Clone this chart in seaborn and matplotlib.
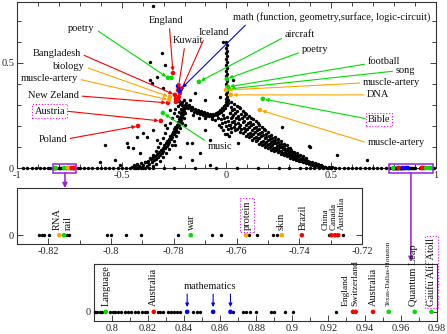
import pandas as pd
import seaborn as sns
import matplotlib.pyplot as plt
import matplotlib.transforms as mtransforms
from matplotlib.patches import Rectangle
from matplotlib.ticker import MultipleLocator

# ---------------- data ----------------
# black cloud, main panel: left arm, bridge, column at x=0, mass under it, right tail, outliers
arm = [(-0.452, 0.004), (-0.441, 0.012), (-0.433, 0.003), (-0.425, 0.018), (-0.418, 0.008), (-0.409, 0.022),
       (-0.402, 0.006), (-0.396, 0.015), (-0.388, 0.028), (-0.381, 0.010), (-0.376, 0.034), (-0.369, 0.020),
       (-0.362, 0.041), (-0.357, 0.027), (-0.350, 0.050), (-0.346, 0.036), (-0.340, 0.058), (-0.336, 0.044),
       (-0.331, 0.067), (-0.327, 0.052), (-0.322, 0.078), (-0.318, 0.062), (-0.314, 0.088), (-0.309, 0.071),
       (-0.305, 0.097), (-0.301, 0.083), (-0.298, 0.108), (-0.293, 0.094), (-0.290, 0.118), (-0.286, 0.104),
       (-0.283, 0.129), (-0.279, 0.115), (-0.276, 0.140), (-0.272, 0.126), (-0.269, 0.151), (-0.265, 0.137),
       (-0.262, 0.162), (-0.258, 0.148), (-0.256, 0.173), (-0.252, 0.160), (-0.249, 0.185), (-0.246, 0.171),
       (-0.244, 0.196), (-0.240, 0.182), (-0.238, 0.207), (-0.234, 0.194), (-0.232, 0.219), (-0.228, 0.205),
       (-0.226, 0.231), (-0.222, 0.218), (-0.221, 0.243), (-0.216, 0.230), (-0.216, 0.256), (-0.211, 0.243),
       (-0.212, 0.268), (-0.206, 0.256), (-0.208, 0.281), (-0.203, 0.270), (-0.206, 0.294), (-0.200, 0.284),
       (-0.214, 0.300), (-0.198, 0.298), (-0.210, 0.312), (-0.220, 0.306), (-0.226, 0.318), (-0.204, 0.322),
       (-0.192, 0.310), (-0.232, 0.294), (-0.244, 0.280), (-0.250, 0.262), (-0.262, 0.238), (-0.270, 0.214),
       (-0.282, 0.190), (-0.292, 0.166), (-0.303, 0.142), (-0.315, 0.118), (-0.326, 0.098), (-0.338, 0.080),
       (-0.351, 0.062), (-0.366, 0.046), (-0.380, 0.030), (-0.236, 0.248), (-0.228, 0.265), (-0.218, 0.282),
       (-0.196, 0.262), (-0.204, 0.240), (-0.212, 0.214), (-0.220, 0.192), (-0.230, 0.170), (-0.240, 0.150),
       (-0.251, 0.128), (-0.262, 0.108), (-0.275, 0.090), (-0.288, 0.070), (-0.302, 0.052), (-0.318, 0.035),
       (-0.334, 0.020), (-0.350, 0.010)]

bridge = [(-0.190, 0.296), (-0.185, 0.284), (-0.180, 0.300), (-0.176, 0.288), (-0.171, 0.276), (-0.166, 0.292),
          (-0.162, 0.280), (-0.157, 0.268), (-0.152, 0.283), (-0.147, 0.272), (-0.142, 0.262), (-0.137, 0.276),
          (-0.132, 0.266), (-0.127, 0.256), (-0.122, 0.270), (-0.117, 0.260), (-0.112, 0.251), (-0.107, 0.266),
          (-0.102, 0.257), (-0.097, 0.248), (-0.092, 0.262), (-0.087, 0.254), (-0.082, 0.246), (-0.077, 0.259),
          (-0.072, 0.251), (-0.067, 0.243), (-0.062, 0.257), (-0.057, 0.250), (-0.052, 0.262), (-0.047, 0.254),
          (-0.042, 0.268), (-0.037, 0.260), (-0.032, 0.276), (-0.027, 0.268), (-0.022, 0.284), (-0.017, 0.276),
          (-0.013, 0.294), (-0.009, 0.286), (-0.006, 0.302), (-0.160, 0.250), (-0.130, 0.240), (-0.100, 0.236),
          (-0.070, 0.232), (-0.040, 0.240), (-0.018, 0.252)]

column = [(0.000, 0.600), (0.002, 0.585), (-0.001, 0.572), (0.001, 0.558), (0.000, 0.545), (0.002, 0.531),
          (-0.001, 0.517), (0.001, 0.503), (0.000, 0.490), (0.002, 0.476), (-0.001, 0.462), (0.001, 0.448),
          (0.000, 0.436), (0.003, 0.412), (-0.002, 0.400), (0.001, 0.388), (0.004, 0.362), (-0.003, 0.352),
          (0.002, 0.340), (-0.004, 0.330), (0.006, 0.322), (-0.002, 0.316), (0.008, 0.308), (0.003, 0.298)]

mass = [(-0.028, 0.232), (-0.020, 0.214), (-0.012, 0.236), (-0.006, 0.220), (0.004, 0.244), (0.010, 0.226),
        (-0.024, 0.196), (-0.014, 0.180), (-0.004, 0.200), (0.006, 0.186), (0.014, 0.206), (0.020, 0.190),
        (-0.008, 0.160), (0.004, 0.164), (0.014, 0.150), (0.024, 0.170), (0.016, 0.262), (0.026, 0.244),
        (-0.034, 0.206)]

tail = [(0.018, 0.205), (0.022, 0.236), (0.017, 0.262), (0.024, 0.289), (0.020, 0.316),
        (0.034, 0.197), (0.037, 0.223), (0.032, 0.254), (0.038, 0.279), (0.035, 0.306),
        (0.049, 0.186), (0.053, 0.214), (0.047, 0.238), (0.052, 0.270), (0.050, 0.294),
        (0.064, 0.173), (0.067, 0.204), (0.062, 0.231), (0.068, 0.255), (0.065, 0.284),
        (0.079, 0.167), (0.083, 0.190), (0.077, 0.221), (0.082, 0.247), (0.080, 0.270),
        (0.094, 0.153), (0.098, 0.184), (0.092, 0.207), (0.097, 0.236), (0.095, 0.259),
        (0.109, 0.146), (0.113, 0.168), (0.108, 0.197), (0.112, 0.220), (0.110, 0.249),
        (0.124, 0.134), (0.128, 0.161), (0.122, 0.183), (0.127, 0.211), (0.125, 0.233),
        (0.139, 0.127), (0.143, 0.148), (0.137, 0.173), (0.142, 0.196), (0.140, 0.223),
        (0.154, 0.116), (0.158, 0.141), (0.152, 0.161), (0.157, 0.186), (0.155, 0.207),
        (0.169, 0.111), (0.173, 0.129), (0.167, 0.153), (0.172, 0.172), (0.170, 0.196),
        (0.184, 0.101), (0.188, 0.124), (0.182, 0.141), (0.187, 0.163), (0.185, 0.181),
        (0.199, 0.097), (0.203, 0.113), (0.197, 0.134), (0.202, 0.151), (0.200, 0.171),
        (0.214, 0.087), (0.218, 0.108), (0.212, 0.123), (0.217, 0.143), (0.215, 0.157),
        (0.229, 0.083), (0.233, 0.097), (0.227, 0.117), (0.232, 0.131), (0.230, 0.149),
        (0.244, 0.074), (0.248, 0.092), (0.242, 0.106), (0.247, 0.123), (0.245, 0.136),
        (0.259, 0.069), (0.263, 0.082), (0.257, 0.100), (0.262, 0.112), (0.260, 0.128),
        (0.274, 0.061), (0.278, 0.078), (0.272, 0.090), (0.277, 0.105), (0.275, 0.116),
        (0.289, 0.057), (0.293, 0.069), (0.287, 0.084), (0.292, 0.094), (0.290, 0.108),
        (0.304, 0.049), (0.308, 0.064), (0.302, 0.074), (0.307, 0.088), (0.305, 0.097),
        (0.319, 0.045), (0.323, 0.055), (0.317, 0.069), (0.322, 0.078),
        (0.334, 0.037), (0.338, 0.051), (0.332, 0.060), (0.337, 0.072),
        (0.349, 0.034), (0.353, 0.043), (0.347, 0.055), (0.352, 0.062),
        (0.364, 0.027), (0.368, 0.039), (0.362, 0.046), (0.367, 0.056),
        (0.379, 0.024), (0.383, 0.031), (0.377, 0.041), (0.382, 0.047),
        (0.394, 0.018), (0.398, 0.028), (0.392, 0.033),
        (0.409, 0.016), (0.413, 0.021), (0.407, 0.030),
        (0.424, 0.010), (0.428, 0.018), (0.422, 0.023),
        (0.439, 0.009), (0.443, 0.012), (0.437, 0.019),
        (0.454, 0.005), (0.458, 0.011), (0.452, 0.014),
        (0.469, 0.004), (0.473, 0.007), (0.484, 0.002), (0.488, 0.006),
        (0.499, 0.001), (0.503, 0.004), (0.518, 0.002)]

tail_fill = [(0.027, 0.221), (0.029, 0.275), (0.043, 0.209), (0.041, 0.262), (0.058, 0.196), (0.056, 0.248),
             (0.060, 0.290), (0.072, 0.186), (0.074, 0.238), (0.088, 0.176), (0.086, 0.226), (0.089, 0.262),
             (0.103, 0.163), (0.101, 0.216), (0.118, 0.152), (0.116, 0.203), (0.119, 0.238), (0.133, 0.142),
             (0.131, 0.190), (0.148, 0.133), (0.146, 0.180), (0.149, 0.212), (0.163, 0.124), (0.161, 0.168),
             (0.178, 0.116), (0.176, 0.158), (0.179, 0.186), (0.193, 0.108), (0.191, 0.146), (0.208, 0.101),
             (0.206, 0.138), (0.223, 0.093), (0.221, 0.128), (0.238, 0.086), (0.236, 0.118), (0.253, 0.079),
             (0.251, 0.110), (0.268, 0.073), (0.266, 0.100), (0.283, 0.066), (0.281, 0.092), (0.298, 0.060),
             (0.296, 0.083), (0.313, 0.053), (0.311, 0.075), (0.328, 0.046), (0.326, 0.066), (0.343, 0.040),
             (0.341, 0.058), (0.358, 0.035), (0.373, 0.030), (0.388, 0.025)]

outliers = [(-0.351, 0.771), (-0.017, 0.600), (-0.365, 0.505), (-0.308, 0.548), (-0.294, 0.490),
            (-0.332, 0.433), (-0.356, 0.405), (-0.303, 0.381), (-0.365, 0.419), (-0.475, 0.119),
            (-0.446, 0.095), (-0.413, 0.071), (-0.379, 0.148), (-0.351, 0.181), (-0.332, 0.133),
            (-0.532, 0.038), (-0.508, 0.014), (-0.470, 0.100), (-0.427, 0.148), (-0.399, 0.167),
            (-0.389, 0.029), (-0.189, 0.119), (-0.165, 0.038), (-0.126, 0.071), (-0.079, 0.133),
            (-0.150, 0.357), (-0.103, 0.324), (-0.031, 0.338), (0.041, 0.181), (-0.079, 0.014),
            (-0.165, 0.119), (-0.222, 0.052), (0.399, 0.100), (0.527, 0.062), (0.671, 0.038),
            (0.265, 0.195), (0.394, 0.105), (0.055, 0.119), (0.031, 0.419), (-0.580, 0.110),
            (-0.604, 0.029), (-0.246, 0.110), (-0.198, 0.205), (-0.103, 0.181), (-0.055, 0.229),
            (-0.174, 0.324), (-0.270, 0.276), (-0.294, 0.205)]

# points lying on y = 0
base_x = [-0.97, -0.95, -0.93, -0.91, -0.89, -0.87, -0.85, -0.84, -0.71, -0.70, -0.68, -0.66, -0.64,
          -0.62, -0.60, -0.58, -0.56, -0.54, -0.52, -0.50, -0.48, -0.46, -0.44, -0.43, -0.42, -0.41,
          -0.40, -0.39, -0.37, -0.35, -0.30, -0.25, -0.15, -0.05, 0.05, 0.15, 0.25, 0.30, 0.35, 0.38,
          0.40, 0.42, 0.44, 0.46, 0.48, 0.50, 0.52, 0.54, 0.56, 0.58, 0.60, 0.62, 0.64, 0.66, 0.68,
          0.70, 0.72, 0.74, 0.76, 0.78, 0.985, 0.99]
mid_black = [-0.8230, -0.8221, -0.8213, -0.8197, -0.8142, -0.8134, -0.8013, -0.8001, -0.7952, -0.7906,
             -0.7788, -0.7678, -0.7651, -0.7559, -0.7534, -0.7485, -0.7472, -0.7307, -0.7260]
bot_black = [0.7909, 0.7920, 0.7933, 0.7946, 0.7989, 0.8004, 0.8016, 0.8035, 0.8048, 0.8072, 0.8087,
             0.8103, 0.8127, 0.8145, 0.8164, 0.8183, 0.8195, 0.8253, 0.8266, 0.8284, 0.8312, 0.8330,
             0.8343, 0.8358, 0.8376, 0.8450, 0.8469, 0.8487, 0.8672, 0.8727, 0.8742, 0.8764, 0.8801,
             0.8880, 0.8899, 0.8958, 0.9001, 0.9241]

# coloured points (x, y, colour)
main_colored = [(-0.255, 0.452, 'red'), (-0.231, 0.371, 'red'), (-0.222, 0.357, 'red'), (-0.246, 0.348, 'red'),
                (-0.241, 0.329, 'red'), (-0.231, 0.324, 'red'), (-0.241, 0.314, 'red'), (-0.227, 0.338, 'red'),
                (-0.279, 0.310, 'red'), (-0.313, 0.224, 'red'), (-0.422, 0.200, 'red'),
                (-0.231, 0.390, 'blue'), (-0.217, 0.376, 'blue'), (-0.224, 0.367, 'blue'),
                (-0.279, 0.429, 'green'), (-0.262, 0.429, 'green'), (-0.303, 0.262, 'green'),
                (-0.131, 0.410, 'green'), (0.002, 0.424, 'green'), (0.007, 0.386, 'green'),
                (0.012, 0.376, 'green'), (0.174, 0.329, 'green'),
                (-0.270, 0.338, 'orange'), (-0.274, 0.324, 'orange'), (-0.002, 0.371, 'orange'),
                (0.021, 0.348, 'orange'), (0.160, 0.276, 'orange')]
mid_colored = [(-0.8165, 'orange'), (-0.8150, 'green'), (-0.7746, 'green'), (-0.7570, 'orange'),
               (-0.7456, 'orange'), (-0.7392, 'red'), (-0.7298, 'red'), (-0.7286, 'red'), (-0.7276, 'red')]
bot_colored = [(0.7966, 'green'), (0.8232, 'red'), (0.8417, 'blue'), (0.8561, 'blue'), (0.8657, 'blue'),
               (0.9336, 'red'), (0.9351, 'red'), (0.9447, 'red'), (0.9534, 'green'), (0.9678, 'green'),
               (0.9771, 'green')]

# labels: text, point, label position, arrow colour, alignment, arrow start on text, boxed
main_notes = [
    ('poetry', (-0.279, 0.429), (-0.628, 0.662), 'green', 'right', (1, 0.5), False),
    ('England', (-0.255, 0.452), (-0.289, 0.700), 'red', 'center', (0.6, 0), False),
    ('Kuwait', (-0.231, 0.371), (-0.184, 0.605), 'red', 'center', (0.4, 0), False),
    ('Iceland', (-0.222, 0.357), (-0.060, 0.643), 'red', 'center', (0.2, 0), False),
    ('math (function, geometry,surface, logic-circuit)', (-0.217, 0.376), (0.031, 0.719), 'blue', 'left', (0.08, 0), False),
    ('aircraft', (-0.131, 0.410), (0.279, 0.633), 'green', 'left', (0, 0.3), False),
    ('poetry', (0.002, 0.424), (0.360, 0.562), 'green', 'left', (0, 0.3), False),
    ('football', (0.007, 0.386), (0.675, 0.505), 'green', 'left', (0, 0.3), False),
    ('song', (0.012, 0.376), (0.809, 0.462), 'green', 'left', (0, 0.5), False),
    ('muscle-artery', (-0.002, 0.371), (0.652, 0.405), 'orange', 'left', (0, 0.5), False),
    ('DNA', (0.021, 0.348), (0.671, 0.348), 'orange', 'left', (0, 0.5), False),
    ('Bible', (0.174, 0.329), (0.675, 0.229), 'green', 'left', (0, 0.6), True),
    ('muscle-artery', (0.160, 0.276), (0.675, 0.119), 'orange', 'left', (0, 0.5), False),
    ('Bangladesh', (-0.246, 0.348), (-0.695, 0.543), 'red', 'right', (1, 0.5), False),
    ('biology', (-0.270, 0.338), (-0.675, 0.481), 'orange', 'right', (1, 0.5), False),
    ('muscle-artery', (-0.274, 0.324), (-0.709, 0.424), 'orange', 'right', (1, 0.5), False),
    ('New Zeland', (-0.279, 0.310), (-0.704, 0.343), 'red', 'right', (1, 0.5), False),
    ('Austria', (-0.313, 0.224), (-0.770, 0.271), 'red', 'right', (1, 0.5), True),
    ('Poland', (-0.422, 0.200), (-0.761, 0.138), 'red', 'right', (1, 0.5), False),
    ('music', (-0.303, 0.262), (-0.088, 0.100), 'green', 'left', (0, 1), False),
]
# rotated labels of the two zoom panels: text, x position, font size
mid_labels = [('RNA', -0.8172, 7.5), ('rail', -0.8137, 7.5), ('war', -0.7745, 7.5), ('protein', -0.7567, 7.5),
              ('skin', -0.7458, 7.5), ('Brazil', -0.7388, 7.5), ('China', -0.7317, 6.5),
              ('Canada', -0.7291, 6.5), ('Australia', -0.7265, 6.5)]
bot_labels = [('Language', 0.7966, 7.5), ('Australia', 0.8232, 7.5), ('England', 0.9295, 6.8),
              ('Switzerland', 0.9348, 6.8), ('Australia', 0.9451, 7.5), ('Texas-Dallas-Houston', 0.9534, 5.2),
              ('Quantum Leap', 0.9673, 7.5), ('Gaufu Alif Atoll', 0.9773, 7.5)]
boxed_labels = ['protein', 'Gaufu Alif Atoll']
math_x = [0.8417, 0.8561, 0.8657]

main_xticks = [-1, -0.5, 0, 0.5, 1]
main_xlabels = ['-1', '-0.5', '0', '0.5', '1']
mid_xticks = [-0.82, -0.80, -0.78, -0.76, -0.74, -0.72]
mid_xlabels = ['-0.82', '-0.8', '-0.78', '-0.76', '-0.74', '-0.72']
bot_xticks = [0.80, 0.82, 0.84, 0.86, 0.88, 0.90, 0.92, 0.94, 0.96, 0.98]
bot_xlabels = ['0.8', '0.82', '0.84', '0.86', '0.88', '0.9', '0.92', '0.94', '0.96', '0.98']

colors = {'red': '#ff0000', 'green': '#00dd00', 'orange': '#ffa500', 'blue': '#0000ff'}
PURPLE = '#9a1ee0'
MAGENTA = '#ff00ff'

# ---------------- plot ----------------
sns.set_style('ticks')
plt.rcParams['font.family'] = ['Liberation Serif', 'DejaVu Serif']
plt.rcParams['axes.unicode_minus'] = False
FS = 7.5

fig = plt.figure(figsize=(4.47, 3.34), dpi=100)
ax = fig.add_axes([0.038, 0.497, 0.937, 0.497])
ax_mid = fig.add_axes([0.038, 0.269, 0.772, 0.168])
ax_bot = fig.add_axes([0.210, 0.039, 0.767, 0.171])

cloud = arm + bridge + column + mass + tail + tail_fill + outliers
zero_pts = [(x, 0.0) for x in base_x + mid_black + bot_black]
df_black = pd.DataFrame(cloud + zero_pts, columns=['x', 'y'])
df_main_col = pd.DataFrame(main_colored + [(x, 0.0, c) for x, c in mid_colored + bot_colored],
                           columns=['x', 'y', 'c'])
df_mid = pd.DataFrame([(x, 0.0) for x in mid_black], columns=['x', 'y'])
df_mid_col = pd.DataFrame([(x, 0.0, c) for x, c in mid_colored], columns=['x', 'y', 'c'])
df_bot = pd.DataFrame([(x, 0.0) for x in bot_black], columns=['x', 'y'])
df_bot_col = pd.DataFrame([(x, 0.0, c) for x, c in bot_colored], columns=['x', 'y', 'c'])

for a, blk, col in [(ax, df_black, df_main_col), (ax_mid, df_mid, df_mid_col), (ax_bot, df_bot, df_bot_col)]:
    sns.scatterplot(data=blk, x='x', y='y', color='black', s=6, linewidth=0, ax=a,
                    clip_on=False, legend=False, zorder=3)
    sns.scatterplot(data=col, x='x', y='y', hue='c', palette=colors, s=11, linewidth=0, ax=a,
                    clip_on=False, legend=False, zorder=4)
    a.set_xlabel('')
    a.set_ylabel('')
    for sp in a.spines.values():
        sp.set_linewidth(0.8)
        sp.set_color('#333333')

box_style = dict(boxstyle='square,pad=0.2', fc='none', ec=MAGENTA, ls=':', lw=0.8)

# main panel
ax.set_xlim(-1, 1)
ax.set_ylim(0, 0.79)
ax.set_xticks(main_xticks)
ax.set_xticklabels(main_xlabels)
ax.set_yticks([0, 0.5])
ax.set_yticklabels(['0', '0.5'])
ax.xaxis.set_minor_locator(MultipleLocator(0.1))
ax.yaxis.set_minor_locator(MultipleLocator(0.1))
ax.tick_params(which='both', direction='in', top=True, right=True, labelsize=FS, pad=2, width=0.6)
ax.tick_params(which='major', length=4)
ax.tick_params(which='minor', length=3)

for text, xy, xyt, c, ha, rel, boxed in main_notes:
    ax.annotate(text, xy=xy, xytext=xyt, ha=ha, va='center', fontsize=FS, color='#111111',
                bbox=box_style if boxed else None, annotation_clip=False, zorder=6,
                arrowprops=dict(arrowstyle='-|>', color=colors[c], lw=0.8, mutation_scale=5,
                                shrinkA=0, shrinkB=1.5, relpos=rel))

ax.add_patch(Rectangle((-0.83, -0.022), 0.112, 0.042, fill=False, ec=PURPLE, lw=1.1, clip_on=False, zorder=5))
ax.add_patch(Rectangle((0.776, -0.022), 0.21, 0.042, fill=False, ec=PURPLE, lw=1.1, clip_on=False, zorder=5))
arrow_purple = dict(arrowstyle='-|>', color=PURPLE, lw=1.1, mutation_scale=7, shrinkA=0, shrinkB=0)
ax.annotate('', xy=(-0.771, 1.0), xycoords=mtransforms.blended_transform_factory(ax.transData, ax_mid.transAxes),
            xytext=(-0.771, -0.022), textcoords='data', arrowprops=arrow_purple, annotation_clip=False)
ax.annotate('', xy=(0.881, 1.035), xycoords=mtransforms.blended_transform_factory(ax.transData, ax_bot.transAxes),
            xytext=(0.881, -0.022), textcoords='data', arrowprops=arrow_purple, annotation_clip=False)

# zoom panels
for a, lims, ticks, labels, notes in [(ax_mid, (-0.83, -0.72), mid_xticks, mid_xlabels, mid_labels),
                                      (ax_bot, (0.79, 0.98), bot_xticks, bot_xlabels, bot_labels)]:
    a.set_xlim(*lims)
    a.set_ylim(-0.19, 1)
    a.set_xticks(ticks)
    a.set_xticklabels(labels)
    a.set_yticks([0])
    a.set_yticklabels(['0'])
    a.xaxis.set_minor_locator(MultipleLocator(0.01))
    a.tick_params(which='both', direction='in', right=True, top=False, labelsize=FS, pad=2, width=0.6)
    a.tick_params(which='major', length=4)
    a.tick_params(which='minor', length=3)
    for text, x, fs in notes:
        a.annotate(text, xy=(x, 0), xytext=(0, 4), textcoords='offset points', rotation=90,
                   ha='center', va='bottom', fontsize=fs, color='#111111', annotation_clip=False,
                   bbox=box_style if text in boxed_labels else None, zorder=6)

ax_bot.text(0.8543, 0.52, 'mathematics', ha='center', va='center', fontsize=FS, color='#111111')
for x in math_x:
    ax_bot.annotate('', xy=(x, 0.1), xytext=(x, 0.37),
                    arrowprops=dict(arrowstyle='-|>', color=colors['blue'], lw=0.8, mutation_scale=5,
                                    shrinkA=0, shrinkB=0))

plt.savefig('out.png', dpi=100)
